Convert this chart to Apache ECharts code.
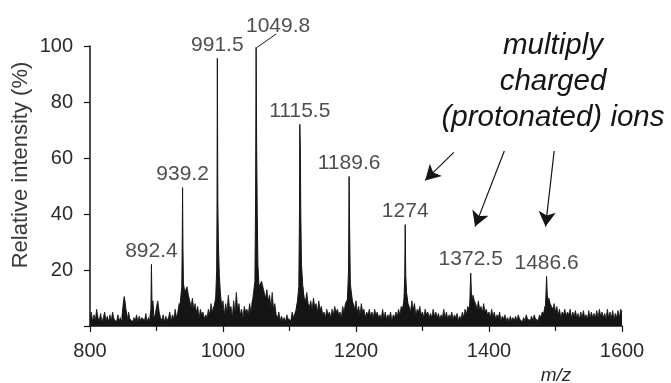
<!DOCTYPE html>
<html>
<head>
<meta charset="utf-8">
<script src="https://cdn.jsdelivr.net/npm/echarts@6/dist/echarts.min.js"></script>
<style>
  html, body { margin: 0; padding: 0; background: #fff; }
  #chart { width: 671px; height: 383px; }
</style>
</head>
<body>
<div id="chart"></div>
<script>
/* baseline noise, m/z 800..1600 in steps of 2 */
const noiseStart = 800;
const noiseStep = 2;
const noise = [
  2, 5, 1.5, 4, 2, 6, 3, 2, 4.5, 1.5, 3, 5, 2, 3.5, 1.5, 4, 2, 5, 2.5, 3,
  1.5, 4, 2, 3, 1.5, 5, 3, 4, 2, 5, 2.5, 3, 1.5, 3, 2, 4, 1.5, 3.5, 2, 3,
  3, 2, 4.5, 1.5, 3, 2, 5, 2.5, 3, 4, 7, 9, 5, 3, 2, 4, 1.5, 3.5, 2, 3,
  5, 2, 4, 2.5, 6, 3, 5, 8, 6, 10, 9, 12, 13, 14, 11, 9, 7, 10, 6, 8,
  5, 7, 3, 6, 4, 5, 2.5, 4, 3, 6, 4, 8, 5, 7, 6, 10, 13, 11, 9, 7,
  9, 4, 8, 5, 11, 6, 7, 3, 9, 5, 12, 6, 8, 4, 6, 3, 7, 5, 6, 4,
  8, 5, 9, 7, 10, 9, 12, 14, 15, 16, 14, 12, 10, 13, 9, 11, 7, 12, 6, 8,
  4, 3, 5, 2, 3.5, 2, 3, 1.5, 4, 2.5, 3, 2, 5, 3, 4.5, 6, 8, 9, 10, 12,
  14, 10, 9, 12, 8, 7, 9, 6, 10, 7, 8, 5, 9, 6, 7, 4, 5, 3, 6, 4,
  5, 3, 6, 4, 7, 5, 6, 4, 5, 3, 7, 5, 8, 9, 10, 12, 11, 9, 8, 6,
  9, 5, 7, 4, 8, 5, 6, 3, 5, 4, 6, 3.5, 5, 3, 6, 4, 5, 3, 4, 2.5,
  6, 3, 5, 2.5, 4, 3, 5, 2, 4, 3, 5, 3.5, 6, 4, 7, 6, 9, 12, 11, 8,
  7, 5, 9, 6, 8, 4, 6, 5, 7, 4, 5, 3, 6, 4, 5, 3, 4.5, 3, 6, 3.5,
  5, 3, 4.5, 2.5, 4, 3, 6, 3, 5, 2.5, 4, 3, 5, 2.5, 4, 3, 4.5, 2, 3.5, 2.5,
  5, 3, 6, 4, 7, 6, 9, 8, 11, 9, 8, 6, 9, 6, 7, 5, 8, 5, 6, 4,
  5, 3, 6, 3.5, 5, 2.5, 4, 3, 5, 2, 3.5, 2.5, 4, 2, 3, 1.5, 3.5, 2, 3, 2,
  3.5, 2, 4, 2.5, 3, 1.5, 3, 2, 4, 2.5, 3, 2, 3.5, 2, 4, 2.5, 3, 2, 4, 3,
  5, 4, 7, 6, 9, 10, 8, 7, 6, 8, 5, 7, 4, 6, 3, 5, 4, 6, 3.5, 5,
  4, 6, 3, 5, 3.5, 5.5, 3, 4.5, 2.5, 5, 3, 5.5, 3, 4, 2.5, 5.5, 3, 5, 3, 4.5,
  3, 5.5, 3, 6, 3.5, 5, 3, 4.5, 2.5, 6, 3, 5, 3, 5.5, 2.5, 4.5, 3, 5.5, 3, 6,
  5
];

/* peak profiles as [m/z, intensity] */
const peak850 = [[848, 3], [850, 8], [851.5, 10.5], [852.5, 9], [854, 6], [856, 3]];
const peak892 = [[890, 3], [891.6, 6], [892.4, 22], [893.2, 8], [894.5, 9], [896, 4]];
const peak939 = [[934, 5], [936, 9], [938, 14], [938.7, 30], [939.2, 49.4], [939.8, 28], [940.5, 15], [942, 13], [944, 9], [946, 6]];
const peak991 = [[986, 6], [989, 10], [990.5, 20], [991, 40], [991.5, 95.6], [992.2, 45], [993, 30], [994.5, 18], [996, 12], [998, 7]];
const peak1049 = [[1044, 8], [1046, 12], [1048, 16], [1049, 45], [1049.8, 99.5], [1050.6, 65], [1051.5, 40], [1052.5, 22], [1054, 15], [1056, 11], [1058, 7]];
const peak1115 = [[1110, 6], [1112, 9], [1114, 14], [1115, 40], [1115.5, 72], [1116.3, 64], [1117, 40], [1118, 22], [1120, 14], [1122, 9], [1124, 6]];
const peak1189 = [[1184, 6], [1187, 9], [1188.8, 20], [1189.6, 53.4], [1190.4, 35], [1191.5, 15], [1193, 12], [1195, 8], [1197, 5]];
const peak1274 = [[1269, 5], [1272, 8], [1273.3, 18], [1274, 36.2], [1274.8, 18], [1276, 12], [1278, 8], [1280, 5]];
const peak1372 = [[1368, 4], [1371, 7], [1372.5, 18.9], [1373.5, 12], [1375, 9], [1377, 6], [1380, 4]];
const peak1486 = [[1482, 4], [1485, 7], [1486.6, 17.7], [1487.6, 11], [1489, 8], [1491, 6], [1494, 4]];
const peaks = [peak850, peak892, peak939, peak991, peak1049, peak1115, peak1189, peak1274, peak1372, peak1486];

/* labelled peaks */
const labelMz = [892.4, 939.2, 991.5, 1049.8, 1115.5, 1189.6, 1274, 1372.5, 1486.6];
const labelTop = [21.9, 49.4, 95.6, 99.5, 72, 53.4, 36.2, 18.9, 17.7];
const labelText = ['892.4', '939.2', '991.5', '1049.8', '1115.5', '1189.6', '1274', '1372.5', '1486.6'];

/* leader line of the 1049.8 label: [from, to] in data coords */
const leader = [[1050.4, 99.4], [1080, 104.3]];

/* arrows from the annotation: [from, to] in data coords */
const arrows = [
  [[1347, 62], [1304, 52]],
  [[1423, 62.5], [1379, 35.5]],
  [[1498, 62.5], [1485, 35.5]]
];

const FONT = 'Liberation Sans, Arial, Helvetica, sans-serif';
const INK = '#151515';

const chart = echarts.init(document.getElementById('chart'), null, { renderer: 'canvas' });

const noiseData = noise.map((v, i) => [noiseStart + i * noiseStep, v]);

const peakSeries = peaks.map((p) => ({
  type: 'line',
  data: p,
  symbol: 'none',
  silent: true,
  lineStyle: { color: INK, width: 1 },
  areaStyle: { color: INK, opacity: 1 },
  z: 3
}));

const option = {
  animation: false,
  backgroundColor: '#fff',
  grid: { left: 90, right: 49, top: 46, bottom: 57, outerBoundsMode: 'none' },
  xAxis: {
    type: 'value',
    min: 800,
    max: 1600,
    interval: 200,
    axisLine: { lineStyle: { color: INK, width: 1.5 } },
    axisTick: { show: true, length: 6, lineStyle: { color: INK, width: 1.2 } },
    minorTick: { show: true, splitNumber: 2, length: 5, lineStyle: { color: INK, width: 1.2 } },
    splitLine: { show: false },
    axisLabel: {
      color: '#2a2a2a', fontSize: 20, fontFamily: FONT, margin: 15,
      formatter: (v) => String(v)
    }
  },
  yAxis: {
    type: 'value',
    min: 0,
    max: 100,
    interval: 20,
    axisLine: { show: true, lineStyle: { color: INK, width: 1.5 } },
    axisTick: { show: true, length: 6, lineStyle: { color: INK, width: 1.2 } },
    splitLine: { show: false },
    axisLabel: {
      color: '#2a2a2a', fontSize: 20, fontFamily: FONT, margin: 17,
      formatter: (v) => (v === 0 ? '' : String(v))
    }
  },
  graphic: [
    {
      id: 'ylabel',
      type: 'text',
      x: 21, y: 165,
      rotation: Math.PI / 2,
      style: {
        text: 'Relative intensity (%)',
        font: '22px ' + FONT,
        fill: '#3a3a3a',
        align: 'center',
        verticalAlign: 'middle'
      }
    },
    {
      id: 'xlabel',
      type: 'text',
      x: 556, y: 366,
      style: {
        text: 'm/z',
        font: 'italic 19px ' + FONT,
        fill: '#2a2a2a',
        align: 'center',
        verticalAlign: 'top'
      }
    },
    {
      id: 'note',
      type: 'text',
      x: 553, y: 28,
      style: {
        text: 'multiply\ncharged\n(protonated) ions',
        font: 'italic 29.5px ' + FONT,
        fill: INK,
        align: 'center',
        verticalAlign: 'top',
        lineHeight: 36
      }
    }
  ],
  series: [
    {
      type: 'line',
      data: noiseData,
      symbol: 'none',
      silent: true,
      lineStyle: { color: INK, width: 0.8 },
      areaStyle: { color: INK, opacity: 1 },
      z: 2
    },
    ...peakSeries,
    {
      type: 'scatter',
      data: labelMz.map((m, i) => [m, labelTop[i]]),
      symbolSize: 0,
      silent: true,
      label: {
        show: true,
        position: 'top',
        distance: 3,
        color: '#222',
        fontSize: 21,
        fontFamily: FONT,
        formatter: (p) => labelText[p.dataIndex]
      },
      labelLayout: (params) => (params.dataIndex === 3 ? { dx: 22, dy: -8 } : {}),
      markLine: {
        silent: true,
        symbol: ['none', 'arrow'],
        symbolSize: [13, 15],
        label: { show: false },
        lineStyle: { color: INK, width: 1.2, type: 'solid' },
        data: arrows.map((a) => [{ coord: a[0] }, { coord: a[1] }])
      },
      z: 5
    }
  ]
};

chart.setOption(option);

/* leader line placed through the axis scales */
const p1 = chart.convertToPixel({ gridIndex: 0 }, leader[0]);
const p2 = chart.convertToPixel({ gridIndex: 0 }, leader[1]);
chart.setOption({
  graphic: [
    {
      id: 'leader',
      type: 'line',
      shape: { x1: p1[0], y1: p1[1], x2: p2[0], y2: p2[1] },
      style: { stroke: INK, lineWidth: 1 },
      silent: true
    }
  ]
});
</script>
</body>
</html>
